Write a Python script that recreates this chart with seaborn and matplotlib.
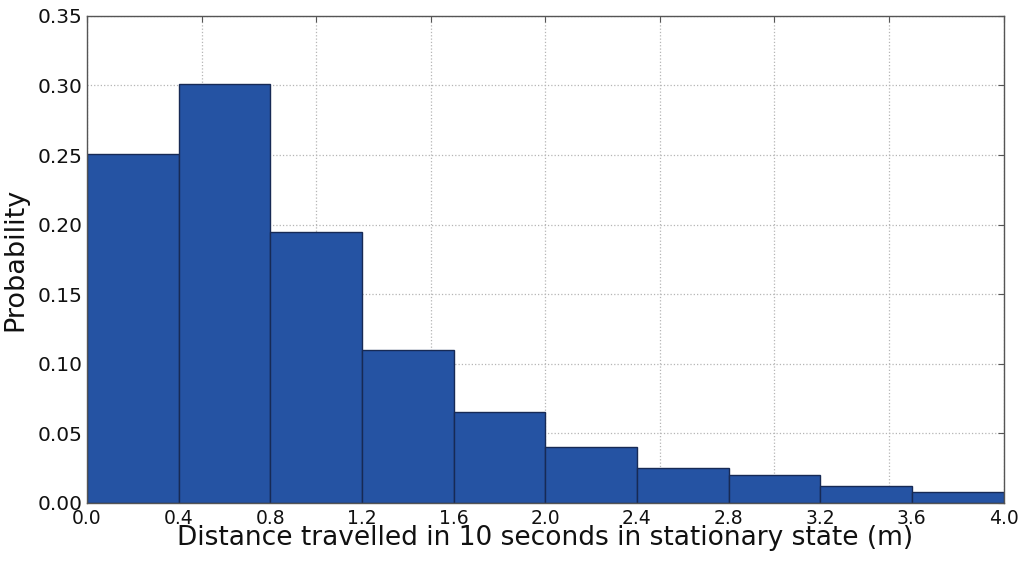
import numpy as np
import matplotlib
matplotlib.use('Agg')
import matplotlib.pyplot as plt
import seaborn as sns

# bin edges (m) and probability per bin
bin_edges = [0.0, 0.4, 0.8, 1.2, 1.6, 2.0, 2.4, 2.8, 3.2, 3.6, 4.0]
probs = [0.251, 0.301, 0.195, 0.110, 0.065, 0.040, 0.025, 0.020, 0.012, 0.008]
tick_labels = ['0.0', '0.4', '0.8', '1.2', '1.6', '2.0', '2.4', '2.8', '3.2', '3.6', '4.0']
y_ticks = [0.00, 0.05, 0.10, 0.15, 0.20, 0.25, 0.30, 0.35]

centers = [(a + b) / 2 for a, b in zip(bin_edges[:-1], bin_edges[1:])]

sns.set_style('white')
plt.rcParams['font.family'] = ['DejaVu Sans']

fig = plt.figure(figsize=(10.24, 5.67), dpi=100)
ax = fig.add_axes([0.085, 0.113, 0.895, 0.859])

sns.histplot(x=centers, weights=probs, bins=bin_edges, stat='count',
             color='#2553a3', edgecolor='#172a55', linewidth=1.0,
             alpha=1.0, ax=ax, zorder=2)

ax.set_xlim(0, 4.0)
ax.set_ylim(0, 0.35)

# grid / ticks at 0.5 steps, labels drawn at the bin edges
ax.set_xticks(np.arange(0, 4.01, 0.5))
ax.tick_params(axis='x', labelbottom=False)
for pos, lab in zip(bin_edges, tick_labels):
    ax.text(pos, -0.012, lab, transform=ax.get_xaxis_transform(),
            ha='center', va='top', fontsize=13.5, color='#111111')

ax.set_yticks(y_ticks)
ax.set_yticklabels([f'{v:.2f}' for v in y_ticks], fontsize=14.5)
ax.tick_params(axis='both', which='major', direction='in', length=4,
               top=True, right=True, color='#555555', labelcolor='#111111')

ax.grid(True, which='major', linestyle=':', color='#b5b5b5', linewidth=0.9)
ax.set_axisbelow(True)
for s in ax.spines.values():
    s.set_color('#555555')
    s.set_linewidth(1.0)

ax.set_xlabel('Distance travelled in 10 seconds in stationary state (m)',
              fontsize=19, labelpad=20, color='#111111')
ax.xaxis.set_label_coords(0.5, -0.045, transform=ax.transAxes)
ax.xaxis.label.set_va('top')
ax.set_ylabel('Probability', fontsize=19.5, labelpad=6, color='#111111')

fig.savefig('out.png', dpi=100)
